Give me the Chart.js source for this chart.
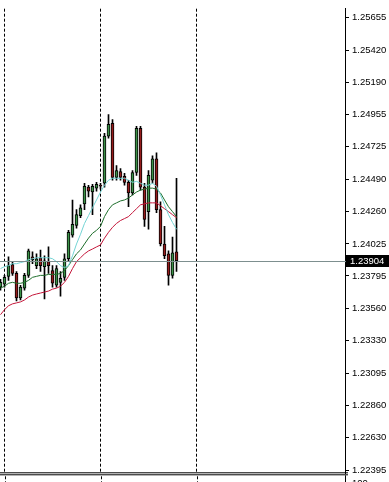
<!DOCTYPE html>
<html>
<head>
<meta charset="utf-8">
<script src="https://cdn.jsdelivr.net/npm/chart.js@4/dist/chart.umd.min.js"></script>
<style>
  html, body { margin: 0; padding: 0; background: #fff; overflow: hidden; }
  canvas { display: block; }
</style>
</head>
<body>
<canvas id="chart-main" width="389" height="482"></canvas>
<script>
// Candles (oldest first)
const opens  = [1.23714, 1.23735, 1.23792, 1.23876, 1.23813, 1.23636, 1.23707, 1.23799, 1.23933, 1.23869,
                1.23926, 1.23862, 1.23898, 1.23834, 1.23728, 1.23749, 1.23785, 1.23919, 1.24088, 1.24159,
                1.24229, 1.24314, 1.24434, 1.24399, 1.24427, 1.24448, 1.24462, 1.24801, 1.24893, 1.24505,
                1.24547, 1.24512, 1.24469, 1.24392, 1.24540, 1.24858, 1.24434, 1.24258, 1.24484, 1.24639,
                1.24272, 1.24025, 1.23954, 1.23799, 1.23968];
const highs  = [1.23770, 1.23799, 1.23933, 1.23898, 1.23827, 1.23728, 1.23813, 1.23989, 1.23968, 1.23954,
                1.23982, 1.23940, 1.24004, 1.23869, 1.23869, 1.23827, 1.23954, 1.24123, 1.24342, 1.24272,
                1.24307, 1.24462, 1.24448, 1.24455, 1.24469, 1.24462, 1.24822, 1.24957, 1.24921, 1.24589,
                1.24568, 1.24533, 1.24484, 1.24554, 1.24872, 1.24872, 1.24462, 1.24554, 1.24660, 1.24681,
                1.24328, 1.24152, 1.23975, 1.24074, 1.24498];
const lows   = [1.23693, 1.23714, 1.23763, 1.23799, 1.23615, 1.23622, 1.23693, 1.23785, 1.23883, 1.23848,
                1.23827, 1.23629, 1.23813, 1.23714, 1.23714, 1.23650, 1.23763, 1.23898, 1.24074, 1.24138,
                1.24215, 1.24272, 1.24363, 1.24236, 1.24406, 1.24420, 1.24434, 1.24787, 1.24484, 1.24484,
                1.24484, 1.24448, 1.24293, 1.24378, 1.24519, 1.24413, 1.24152, 1.24131, 1.24462, 1.24251,
                1.24011, 1.23919, 1.23728, 1.23778, 1.23827];
const closes = [1.23749, 1.23785, 1.23869, 1.23813, 1.23636, 1.23714, 1.23799, 1.23975, 1.23912, 1.23919,
                1.23869, 1.23904, 1.23869, 1.23742, 1.23848, 1.23778, 1.23919, 1.24109, 1.24166, 1.24236,
                1.24286, 1.24441, 1.24406, 1.24441, 1.24455, 1.24441, 1.24801, 1.24886, 1.24505, 1.24554,
                1.24505, 1.24469, 1.24392, 1.24540, 1.24858, 1.24434, 1.24201, 1.24519, 1.24639, 1.24272,
                1.24025, 1.23940, 1.23799, 1.23961, 1.23904];

// Moving averages as drawn
const maFast = [1.23848, 1.23862, 1.23869, 1.23883, 1.23883, 1.23891, 1.23898, 1.23912, 1.23919, 1.23926,
                1.23926, 1.23926, 1.23926, 1.23919, 1.23898, 1.23869, 1.23855, 1.23869, 1.23940, 1.24025,
                1.24095, 1.24173, 1.24229, 1.24286, 1.24342, 1.24399, 1.24448, 1.24484, 1.24498, 1.24498,
                1.24498, 1.24498, 1.24484, 1.24469, 1.24476, 1.24462, 1.24448, 1.24448, 1.24462, 1.24441,
                1.24378, 1.24307, 1.24236, 1.24180, 1.24131];
const maMid  = [1.23707, 1.23721, 1.23742, 1.23749, 1.23742, 1.23742, 1.23749, 1.23763, 1.23785, 1.23792,
                1.23799, 1.23799, 1.23806, 1.23806, 1.23806, 1.23813, 1.23834, 1.23869, 1.23912, 1.23954,
                1.23982, 1.24025, 1.24067, 1.24102, 1.24123, 1.24152, 1.24222, 1.24272, 1.24307, 1.24321,
                1.24335, 1.24342, 1.24356, 1.24378, 1.24399, 1.24413, 1.24420, 1.24427, 1.24427, 1.24420,
                1.24392, 1.24342, 1.24293, 1.24258, 1.24222];
const maSlow = [1.23516, 1.23552, 1.23580, 1.23594, 1.23601, 1.23608, 1.23622, 1.23643, 1.23657, 1.23665,
                1.23672, 1.23679, 1.23686, 1.23700, 1.23707, 1.23721, 1.23749, 1.23792, 1.23848, 1.23898,
                1.23926, 1.23954, 1.23975, 1.23989, 1.24004, 1.24018, 1.24067, 1.24109, 1.24145, 1.24173,
                1.24194, 1.24208, 1.24222, 1.24251, 1.24279, 1.24307, 1.24314, 1.24321, 1.24321, 1.24321,
                1.24300, 1.24279, 1.24258, 1.24236, 1.24215];

// Price axis labels and the period separators (bar index)
const priceTicks = [1.25655, 1.25420, 1.25190, 1.24955, 1.24725, 1.24490, 1.24260, 1.24025,
                    1.23795, 1.23560, 1.23330, 1.23095, 1.22860, 1.22630, 1.22395];
const separators = [1, 25, 49];
const lastPrice = 1.23904;
const subLabel = '100';

const FONT = { family: 'Liberation Sans', size: 9.5 };

// Bid line + black price box on the axis
const lastPricePlugin = {
  id: 'lastPrice',
  afterDatasetsDraw(chart) {
    const { ctx, chartArea, scales } = chart;
    const y = Math.round(scales.y.getPixelForValue(lastPrice)) + 0.5;
    ctx.save();
    ctx.strokeStyle = '#7d8f8f';
    ctx.lineWidth = 1;
    ctx.beginPath();
    ctx.moveTo(chartArea.left, y);
    ctx.lineTo(chartArea.right + 1, y);
    ctx.stroke();
    ctx.fillStyle = '#000';
    ctx.fillRect(chartArea.right + 1, y - 6.5, chart.width - chartArea.right - 1, 12);
    ctx.fillStyle = '#fff';
    ctx.font = FONT.size + 'px ' + FONT.family;
    ctx.textBaseline = 'middle';
    ctx.fillText(lastPrice.toFixed(5), chartArea.right + 5, y);
    ctx.restore();
  }
};

// Separator to the indicator sub-window below the price chart
const subWindowPlugin = {
  id: 'subWindow',
  afterDraw(chart) {
    const { ctx, chartArea, scales } = chart;
    const b = chartArea.bottom;
    ctx.save();
    ctx.strokeStyle = '#000';
    ctx.lineWidth = 1;
    ctx.beginPath();
    ctx.moveTo(0, b - 0.5); ctx.lineTo(chartArea.right + 3, b - 0.5);
    ctx.moveTo(0, b + 1.5); ctx.lineTo(chartArea.right + 3, b + 1.5);
    ctx.moveTo(chartArea.right + 0.5, b + 2); ctx.lineTo(chartArea.right + 0.5, chart.height);
    ctx.stroke();
    ctx.setLineDash([3, 2]);
    ctx.beginPath();
    separators.forEach(v => {
      const x = Math.round(scales.x.getPixelForValue(v)) + 0.5;
      if (x < chartArea.right) { ctx.moveTo(x, b + 3); ctx.lineTo(x, chart.height); }
    });
    ctx.stroke();
    ctx.fillStyle = '#000';
    ctx.font = FONT.size + 'px ' + FONT.family;
    ctx.textBaseline = 'top';
    ctx.fillText(subLabel, chartArea.right + 7, b + 5);
    ctx.restore();
  }
};

const candleColors = closes.map((c, i) => c >= opens[i] ? '#3c9248' : '#951c1c');

new Chart(document.getElementById('chart-main'), {
  type: 'bar',
  data: {
    datasets: [
      {
        type: 'line', data: maFast.map((v, i) => ({ x: i, y: v })),
        borderColor: '#74d4d4', borderWidth: 1, pointRadius: 0, tension: 0, order: 1
      },
      {
        type: 'line', data: maMid.map((v, i) => ({ x: i, y: v })),
        borderColor: '#1f6e2c', borderWidth: 1, pointRadius: 0, tension: 0, order: 1
      },
      {
        type: 'line', data: maSlow.map((v, i) => ({ x: i, y: v })),
        borderColor: '#c4163a', borderWidth: 1, pointRadius: 0, tension: 0, order: 1
      },
      {
        data: opens.map((o, i) => ({ x: i, y: [o, closes[i]] })),
        backgroundColor: candleColors, borderColor: '#000', borderWidth: 1,
        borderSkipped: false, barThickness: 3, grouped: false, order: 2
      },
      {
        data: lows.map((l, i) => ({ x: i, y: [l, highs[i]] })),
        backgroundColor: '#000', barThickness: 1, grouped: false, order: 3
      }
    ]
  },
  options: {
    responsive: false,
    animation: false,
    devicePixelRatio: 1,
    layout: { padding: { top: 0, left: 0, right: 0, bottom: 8 } },
    plugins: { legend: { display: false }, tooltip: { enabled: false } },
    scales: {
      x: {
        type: 'linear', min: -0.125, max: 86.125, offset: false,
        afterBuildTicks: s => { s.ticks = separators.map(v => ({ value: v })); },
        afterFit: s => { s.height = 0; },
        ticks: { display: false },
        grid: { color: '#000', lineWidth: 1, drawTicks: false, offset: false },
        border: { display: false, dash: [3, 2] }
      },
      y: {
        position: 'right', min: 1.22374, max: 1.25719,
        afterBuildTicks: s => { s.ticks = priceTicks.map(v => ({ value: v })); },
        afterFit: s => { s.width = 44; },
        ticks: { color: '#000', font: FONT, padding: 3, callback: v => Number(v).toFixed(5) },
        grid: { drawOnChartArea: false, drawTicks: true, tickLength: 4, color: '#000' },
        border: { display: true, color: '#000' }
      }
    }
  },
  plugins: [lastPricePlugin, subWindowPlugin]
});
</script>
</body>
</html>
